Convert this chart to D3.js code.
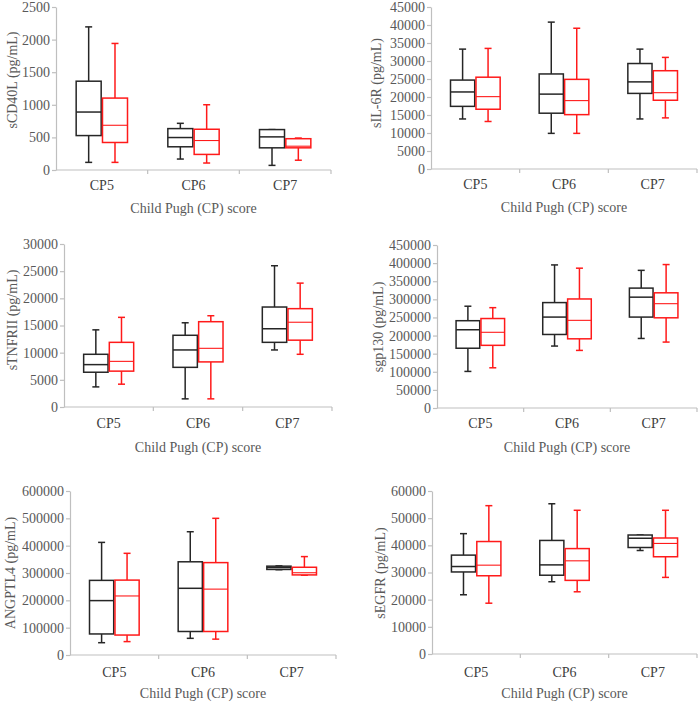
<!DOCTYPE html>
<html>
<head>
<meta charset="utf-8">
<script src="https://cdn.jsdelivr.net/npm/d3@7"></script>
<style>
  html, body { margin: 0; padding: 0; background: #fff; }
  svg { display: block; }
  svg text { font-family: "Liberation Serif", "Times New Roman", Times, serif !important; }
</style>
</head>
<body>
<svg id="chart" width="699" height="702"></svg>
<script>
// ---------- DATA ----------
const categories = ["CP5", "CP6", "CP7"];
const seriesNames = ["Group A", "Group B"];
const xTitle = "Child Pugh (CP) score";
const yLabels = ["sCD40L (pg/mL)", "sIL-6R (pg/mL)", "sTNFRII (pg/mL)", "sgp130 (pg/mL)", "ANGPTL4 (pg/mL)", "sEGFR (pg/mL)"];
const yMaxes = [2500, 45000, 30000, 450000, 600000, 60000];
const ySteps = [500, 5000, 5000, 50000, 100000, 10000];

// each row: [min, Q1, median, Q3, max] for CP5, CP6, CP7
const sCD40L_A = [[117, 528, 889, 1362, 2195], [168, 356, 498, 635, 716], [71, 340, 508, 620, 620]];
const sCD40L_B = [[117, 422, 686, 1103, 1941], [107, 239, 452, 625, 1001], [150, 340, 365, 480, 490]];
const sIL6R_A = [[13900, 17400, 21400, 24700, 33300], [9900, 15500, 20800, 26400, 40800], [13900, 21000, 24200, 29300, 33300]];
const sIL6R_B = [[13200, 16600, 20100, 25500, 33500], [9900, 15100, 19000, 24900, 39100], [14200, 19100, 21200, 27300, 31000]];
const sTNFRII_A = [[3700, 6400, 7800, 9700, 14200], [1500, 7300, 10500, 13200, 15500], [10500, 11900, 14400, 18400, 26000]];
const sTNFRII_B = [[4200, 6600, 8400, 11900, 16500], [1500, 8300, 10800, 15700, 16800], [9700, 12300, 15600, 18100, 22800]];
const sgp130_A = [[101000, 165000, 216000, 241000, 281000], [171000, 203000, 251000, 291000, 395000], [192000, 251000, 306000, 331000, 380000]];
const sgp130_B = [[111000, 173000, 209000, 247000, 277000], [159000, 191000, 242000, 301000, 386000], [182000, 249000, 288000, 318000, 396000]];
const ANGPTL4_A = [[45000, 77000, 199000, 273000, 412000], [61000, 86000, 244000, 341000, 451000], [312000, 313000, 320000, 325000, 326000]];
const ANGPTL4_B = [[49000, 73000, 216000, 274000, 372000], [58000, 86000, 241000, 338000, 500000], [292000, 293000, 301000, 321000, 360000]];
const sEGFR_A = [[21800, 30200, 32200, 36400, 44300], [26600, 29000, 32800, 41800, 55300], [38100, 39200, 42600, 43800, 43800]];
const sEGFR_B = [[18700, 28800, 32700, 41400, 54600], [22900, 27100, 34300, 38800, 52900], [28200, 35800, 40700, 42700, 52900]];

const panelSeries = [
  [sCD40L_A, sCD40L_B], [sIL6R_A, sIL6R_B], [sTNFRII_A, sTNFRII_B],
  [sgp130_A, sgp130_B], [ANGPTL4_A, ANGPTL4_B], [sEGFR_A, sEGFR_B]
];

// ---------- LAYOUT ----------
const layout = [
  {left: 56,  right: 331, top: 7,   bottom: 170, ylabX: 12,  ylabY: 80,  catY: 190, titleY: 213},
  {left: 431, right: 697, top: 7,   bottom: 169, ylabX: 376, ylabY: 83,  catY: 189, titleY: 212},
  {left: 64,  right: 332, top: 244, bottom: 407, ylabX: 12,  ylabY: 320, catY: 428, titleY: 452},
  {left: 437, right: 697, top: 245, bottom: 408, ylabX: 378, ylabY: 327, catY: 428, titleY: 452},
  {left: 70,  right: 336, top: 491, bottom: 655, ylabX: 10,  ylabY: 573, catY: 677, titleY: 698},
  {left: 432, right: 697, top: 491, bottom: 654, ylabX: 380, ylabY: 573, catY: 677, titleY: 698}
];
const colors = ["#262626", "#ff1a1a"];
const axisColor = "#bfbfbf";
const textColor = "#595959";
const fontSize = 14;
const fontFamily = "'Liberation Serif', 'Times New Roman', Times, serif";

const svg = d3.select("#chart").attr("font-family", fontFamily);

layout.forEach((L, i) => {
  const g = svg.append("g");
  const y = d3.scaleLinear().domain([0, yMaxes[i]]).range([L.bottom, L.top]);
  const x = d3.scaleBand().domain(categories).range([L.left, L.right]).paddingInner(0).paddingOuter(0);
  const bw = x.bandwidth();
  const xs = d3.scaleBand().domain(seriesNames).range([bw * 0.22, bw * 0.78]).paddingInner(0.05);

  // Y axis
  const ticks = d3.range(0, yMaxes[i] + ySteps[i] / 2, ySteps[i]);
  const yAxis = g.append("g")
    .attr("transform", `translate(${L.left},0)`)
    .call(d3.axisLeft(y).tickValues(ticks).tickSize(4).tickSizeOuter(0).tickPadding(2).tickFormat(d3.format("d")));
  yAxis.attr("font-family", fontFamily).attr("font-size", fontSize);
  yAxis.select(".domain").attr("stroke", axisColor).attr("stroke-width", 1.2);
  yAxis.selectAll(".tick line").attr("stroke", axisColor).attr("stroke-width", 1.2);
  yAxis.selectAll(".tick text").attr("fill", textColor);

  // X axis
  const xAxis = g.append("g").attr("transform", `translate(0,${L.bottom})`)
    .attr("font-family", fontFamily).attr("font-size", fontSize);
  xAxis.append("line").attr("x1", L.left).attr("x2", L.right).attr("y1", 0).attr("y2", 0)
    .attr("stroke", axisColor).attr("stroke-width", 1.2);
  categories.forEach((c) => {
    const bx = x(c) + bw;
    xAxis.append("line").attr("x1", bx).attr("x2", bx).attr("y1", 0).attr("y2", 4)
      .attr("stroke", axisColor).attr("stroke-width", 1.2);
    xAxis.append("text").attr("x", x(c) + bw / 2).attr("y", L.catY - L.bottom)
      .attr("text-anchor", "middle").attr("fill", "#404040").text(c);
  });

  // Titles
  g.append("text").attr("x", (L.left + L.right) / 2).attr("y", L.titleY)
    .attr("text-anchor", "middle").attr("fill", textColor).attr("font-size", fontSize).text(xTitle);
  g.append("text").attr("transform", `translate(${L.ylabX + 5},${L.ylabY}) rotate(-90)`)
    .attr("text-anchor", "middle").attr("fill", textColor).attr("font-size", fontSize).text(yLabels[i]);

  // Boxes
  panelSeries[i].forEach((ser, si) => {
    ser.forEach((st, ci) => {
      const [mn, q1, md, q3, mx] = st;
      const bx0 = x(categories[ci]) + xs(seriesNames[si]);
      const w = xs.bandwidth();
      const cx = bx0 + w / 2;
      const col = colors[si];
      const bg = g.append("g").attr("stroke", col).attr("fill", "none").attr("stroke-width", 1.5);
      bg.append("line").attr("x1", cx).attr("x2", cx).attr("y1", y(mx)).attr("y2", y(q3));
      bg.append("line").attr("x1", cx).attr("x2", cx).attr("y1", y(q1)).attr("y2", y(mn));
      bg.append("line").attr("x1", cx - 3.5).attr("x2", cx + 3.5).attr("y1", y(mx)).attr("y2", y(mx));
      bg.append("line").attr("x1", cx - 3.5).attr("x2", cx + 3.5).attr("y1", y(mn)).attr("y2", y(mn));
      bg.append("rect").attr("x", bx0).attr("y", y(q3)).attr("width", w).attr("height", y(q1) - y(q3))
        .attr("fill", "#fff");
      bg.append("line").attr("x1", bx0).attr("x2", bx0 + w).attr("y1", y(md)).attr("y2", y(md))
        .attr("stroke-width", si === 0 ? 1.5 : 1.1);
    });
  });
});
</script>
</body>
</html>
